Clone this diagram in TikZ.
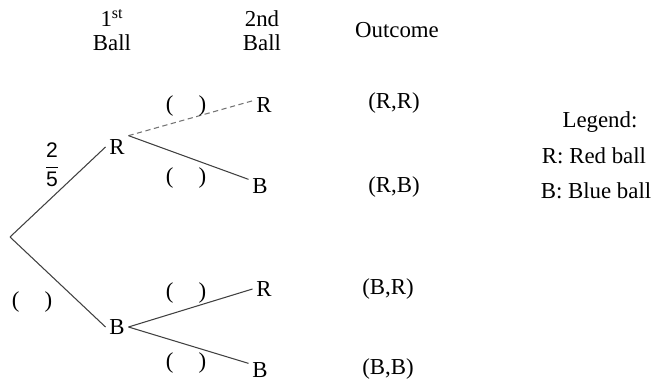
\documentclass[tikz,border=0pt]{standalone}
\usepackage{fontspec}
\setmainfont{Liberation Serif}
\newfontfamily\fracfont{Liberation Sans}
\usetikzlibrary{positioning}

\begin{document}
\begin{tikzpicture}[
  x=0.02cm, y=-0.02cm,
  font=\fontsize{13}{13.5}\selectfont,
  head/.style={align=center},
  ball/.style={inner sep=2pt},
  prob/.style={inner sep=0pt},
  outc/.style={inner sep=1pt},
  branch/.style={draw=black!75, line width=0.6pt},
  faint/.style={branch, densely dashed, draw=black!55}
]
\useasboundingbox (0,0) rectangle (652,384);

% column headings
\node[head] (head1) at (112,30) {1\textsuperscript{st}\\Ball};
\node[head] (head2) at (262,31) {2nd\\Ball};
\node (headout) at (397,30) {Outcome};

% tree
\coordinate (root) at (10,237);
\node[ball] (r1) at (117,147) {R};
\node[ball] (b1) at (117,327) {B};
\node[ball] (rr) at (264,105) {R};
\node[ball] (rb) at (260,186) {B};
\node[ball] (br) at (264,289) {R};
\node[ball] (bb) at (260,370) {B};

\draw[branch] (root) -- (r1.west);
\draw[branch] (root) -- (b1.west);
\draw[faint] (r1.north east) -- (rr.160);
\draw[branch] (r1.north east) -- (rb.150);
\draw[branch] (b1.east) -- (br.west);
\draw[branch] (b1.east) -- (bb.150);

% probabilities
\node[prob] (p1) at (52,165) {$\displaystyle\frac{\hbox{\fracfont\fontsize{12}{12}\selectfont 2}}{\hbox{\fracfont\fontsize{12}{12}\selectfont 5}}$};
\node[prob] (p2) at (32,302) {(\hspace{1.1em})};
\node[prob] (p3) at (186,106) {(\hspace{1.1em})};
\node[prob] (p4) at (186,178) {(\hspace{1.1em})};
\node[prob] (p5) at (186,293) {(\hspace{1.1em})};
\node[prob] (p6) at (186,363) {(\hspace{1.1em})};

% outcomes
\node[outc] (o1) at (394,103) {(R,R)};
\node[outc] (o2) at (394,187) {(R,B)};
\node[outc] (o3) at (388,289) {(B,R)};
\node[outc] (o4) at (388,369) {(B,B)};

% legend
\node (leg) at (600,122) {Legend:};
\node (legr) at (594,156) {R: Red ball};
\node (legb) at (596,191) {B: Blue ball};

\end{tikzpicture}
\end{document}
